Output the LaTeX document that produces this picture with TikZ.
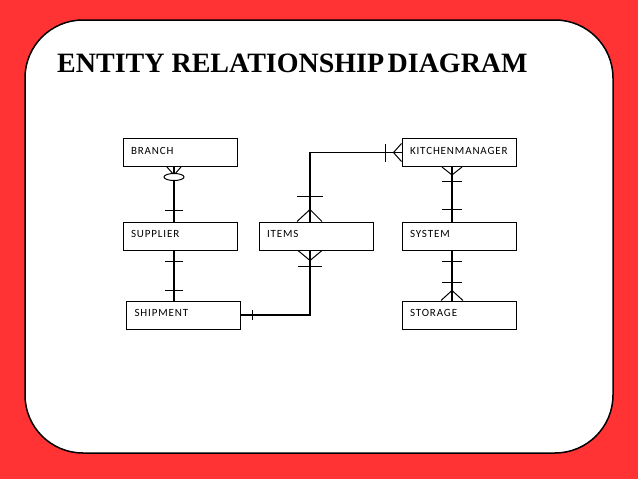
\documentclass[tikz,border=0pt]{standalone}
\usepackage{fontspec}
\setmainfont{Liberation Serif}
\newfontfamily\boxfont[LetterSpace=8]{Carlito}
\usetikzlibrary{calc}
\definecolor{bgred}{RGB}{255,51,51}
\begin{document}
\begin{tikzpicture}[x=1pt,y=-1pt,
  ent/.style={draw, line width=1pt, minimum width=114pt, minimum height=28pt,
    inner sep=0pt, text width=98pt, align=left,
    font=\boxfont\fontsize{11}{13}\selectfont, text height=7.5pt, text depth=4pt},
  link/.style={line width=1.1pt},
  tick/.style={line width=1pt}]
\fill[bgred] (0,0) rectangle (638,479);
\draw[line width=1.5pt, fill=white, rounded corners=58pt] (25,20) rectangle (613,453);
\node[anchor=base west, inner sep=0pt, font=\bfseries\fontsize{28}{30}\selectfont] (title) at (57,72)
  {ENTITY RELATIONSHIP\hspace{3.5pt}DIAGRAM};

\node[ent] (branch) at (180,152.5) {BRANCH};
\node[ent] (supplier) at (180,236) {SUPPLIER};
\node[ent] (shipment) at (183.5,315) {SHIPMENT};
\node[ent] (items) at (316,236) {ITEMS};
\node[ent] (km) at (459,152.5) {KITCHENMANAGER};
\node[ent] (system) at (459,236) {SYSTEM};
\node[ent] (storage) at (459,315) {STORAGE};

% link 1: branch - supplier
\coordinate (p1) at ([xshift=-6pt]branch.south);
\coordinate (q1) at (p1 |- supplier.north);
\draw[link] (p1) -- (q1);
\draw[tick] ($(p1)+(-7,0)$) -- ($(p1)+(0,8)$) -- ($(p1)+(7,0)$);
\draw[tick, fill=white] ($(p1)+(0,10)$) ellipse [x radius=10, y radius=3.5];
\draw[tick] ($(q1)+(-9,-11)$) -- ($(q1)+(9,-11)$);

% link 2: supplier - shipment
\coordinate (p2) at ([xshift=-6pt]supplier.south);
\coordinate (q2) at (p2 |- shipment.north);
\draw[link] (p2) -- (q2);
\draw[tick] ($(p2)+(-9,11)$) -- ($(p2)+(9,11)$);
\draw[tick] ($(q2)+(-9,-10)$) -- ($(q2)+(9,-10)$);

% link 3: shipment - items
\coordinate (p3) at (shipment.east);
\coordinate (q3) at ([xshift=-6pt]items.south);
\draw[link] (p3) -| (q3);
\draw[tick] ($(p3)+(11,-5)$) -- ($(p3)+(11,5)$);
\draw[tick] ($(q3)+(-12,0)$) -- ($(q3)+(0,10)$) -- ($(q3)+(12,0)$);
\draw[tick] ($(q3)+(-12,16)$) -- ($(q3)+(12,16)$);

% link 4: items - kitchenmanager
\coordinate (p4) at ([xshift=-6pt]items.north);
\coordinate (q4) at (km.west);
\draw[link] (p4) |- (q4);
\draw[tick] ($(p4)+(-13,0)$) -- ($(p4)+(0,-12)$) -- ($(p4)+(12,0)$);
\draw[tick] ($(p4)+(-13,-25)$) -- ($(p4)+(13,-25)$);
\draw[tick] ($(q4)+(0,-9)$) -- ($(q4)+(-8,0)$) -- ($(q4)+(0,9)$);
\draw[tick] ($(q4)+(-16,-9)$) -- ($(q4)+(-16,9)$);

% link 5: kitchenmanager - system
\coordinate (p5) at ([xshift=-7pt]km.south);
\coordinate (q5) at (p5 |- system.north);
\draw[link] (p5) -- (q5);
\draw[tick] ($(p5)+(-10,0)$) -- ($(p5)+(0,8)$) -- ($(p5)+(10,0)$);
\draw[tick] ($(p5)+(-10,14)$) -- ($(p5)+(10,14)$);
\draw[tick] ($(q5)+(-10,-12)$) -- ($(q5)+(10,-12)$);

% link 6: system - storage
\coordinate (p6) at ([xshift=-7pt]system.south);
\coordinate (q6) at (p6 |- storage.north);
\draw[link] (p6) -- (q6);
\draw[tick] ($(p6)+(-10,11)$) -- ($(p6)+(10,11)$);
\draw[tick] ($(p6)+(-10,32)$) -- ($(p6)+(10,32)$);
\draw[tick] ($(q6)+(-11,0)$) -- ($(q6)+(0,-10)$) -- ($(q6)+(11,0)$);
\end{tikzpicture}
\end{document}
